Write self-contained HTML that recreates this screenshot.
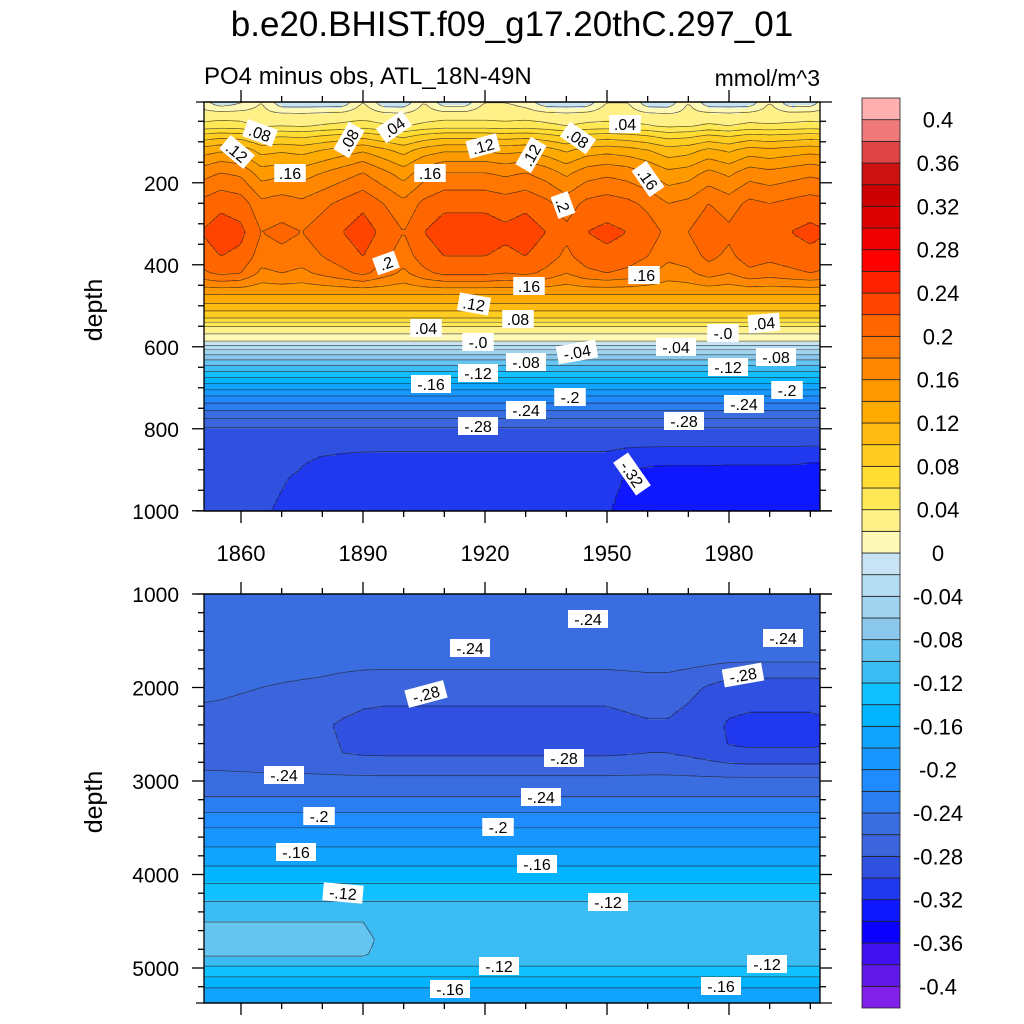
<!DOCTYPE html>
<html><head><meta charset="utf-8">
<style>
html,body{margin:0;padding:0;background:#fff;}
svg{display:block;font-family:"Liberation Sans",sans-serif;}
</style></head>
<body>
<svg id="chart" width="1024" height="1024" viewBox="0 0 1024 1024" xmlns="http://www.w3.org/2000/svg">
<defs>
<clipPath id="clipTop"><rect x="204" y="102" width="616" height="409"/></clipPath>
<clipPath id="clipBot"><rect x="204" y="594" width="616" height="409"/></clipPath>
</defs>
<text x="512" y="36" text-anchor="middle" font-size="35">b.e20.BHIST.f09_g17.20thC.297_01</text>
<text x="204" y="84" font-size="24">PO4 minus obs, ATL_18N-49N</text>
<text x="820" y="86" font-size="23" text-anchor="end">mmol/m^3</text>
<text transform="translate(102,310) rotate(-90)" text-anchor="middle" font-size="25">depth</text>
<text transform="translate(102,802) rotate(-90)" text-anchor="middle" font-size="25">depth</text>
<g id="layers"></g>
</svg>
<script>
const years = [1850,1855,1860,1865,1870,1875,1880,1885,1890,1895,1900,1905,1910,1915,1920,1925,1930,1935,1940,1945,1950,1955,1960,1965,1970,1975,1980,1985,1990,1995,2000,2005];
const topDepths = [0,20,60,85,120,175,250,320,380,420,450,495,530,550,587,607,632,660,690,720,755,795,860,920,1000];
const topValues = [0.006,0.02,0.04,0.08,0.12,0.16,0.195,0.21,0.2,0.185,0.16,0.12,0.08,0.04,0,-0.04,-0.08,-0.12,-0.16,-0.2,-0.24,-0.28,-0.3,-0.31,-0.315];
const topSurfAnom = [0,-0.02,-0.01,0.01,-0.02,-0.02,-0.02,-0.02,0.01,-0.02,-0.02,0.01,-0.02,-0.02,0.01,0.01,0,-0.02,-0.02,-0.02,0.01,0.01,-0.02,-0.02,0.01,-0.02,-0.02,-0.02,0.01,-0.02,-0.02,0.01];
const topUpperAnom = [0.01,0.02,0.015,-0.01,-0.005,-0.01,0,0.01,0.02,0.005,-0.01,0.01,0.02,0.02,0.02,0.015,0.02,0.01,-0.005,0.01,0.015,0.01,0,-0.015,-0.01,0.005,-0.005,0.01,0.005,0.01,0.015,0.01];
const topDeepAnom = [0.025,0.025,0.022,0.018,0.012,0.006,0.002,0,-0.002,-0.003,-0.003,-0.003,-0.003,-0.003,-0.003,-0.003,-0.003,-0.003,-0.003,-0.003,-0.003,-0.012,-0.016,-0.017,-0.017,-0.017,-0.018,-0.018,-0.018,-0.018,-0.02,-0.02];
const botDepths = [1000,1280,1600,2000,2400,2700,3170,3500,3910,4280,4700,4900,4980,5210,5400];
const botValues = [-0.255,-0.24,-0.245,-0.27,-0.282,-0.28,-0.24,-0.2,-0.16,-0.12,-0.105,-0.11,-0.12,-0.16,-0.18];
const botMidAnom = [0.015,0.014,0.012,0.01,0.008,0.006,0.004,0,-0.003,-0.004,-0.004,-0.004,-0.004,-0.004,-0.004,-0.004,-0.004,-0.004,-0.004,-0.004,-0.004,-0.002,0,0,-0.005,-0.012,-0.02,-0.022,-0.022,-0.022,-0.022,-0.02];
const botDeepAnom = [0.012,0.012,0.012,0.012,0.012,0.012,0.012,0.012,0.012,0,-0.003,-0.003,-0.003,-0.003,-0.003,-0.003,-0.003,-0.003,-0.003,-0.003,-0.003,-0.003,-0.003,-0.003,-0.003,-0.003,-0.003,-0.003,-0.003,-0.003,-0.003,-0.003];
const levelColors = ["#8020e8","#6018e8","#4010f0","#0a00ff","#1018ff","#2038ee","#3050e0","#3c64dc","#3a6ee0","#2a7ef0","#1e8cff","#1898ff","#10a4ff","#00b4ff","#10c0ff","#3cbcf4","#66c4f0","#8cc8ec","#a0d4ee","#b4dcf2","#c8e4f4",
"#fff9b8","#fff088","#ffe855","#ffdd33","#ffcc22","#ffbb11","#ffaa00","#ff9900","#ff8800","#ff7700","#ff6600","#ff4400","#ff2200","#ff0000","#ee0000","#dd0000","#cc0000","#cc1111","#e04545","#f07a7a","#ffb0b0"];
const cbarLabels = ["0.4","0.36","0.32","0.28","0.24","0.2","0.16","0.12","0.08","0.04","0","-0.04","-0.08","-0.12","-0.16","-0.2","-0.24","-0.28","-0.32","-0.36","-0.4"];
const xTickYears = [1860,1890,1920,1950,1980];
const topYTicks = [200,400,600,800,1000];
const botYTicks = [1000,2000,3000,4000,5000];
const topLabels = [[237,152,40,".12"],[260,133,20,".08"],[349,140,-60,".08"],[394,127,-35,".04"],[290,173,0,".16"],[430,173,0,".16"],[483,146,-15,".12"],[531,155,-60,".12"],[578,138,35,".08"],[625,124,0,".04"],[648,179,55,".16"],[563,205,70,".2"],[386,263,-20,".2"],[529,286,0,".16"],[644,275,0,".16"],[474,304,10,".12"],[518,319,0,".08"],[426,328,0,".04"],[478,342,0,"-.0"],[526,362,0,"-.08"],[577,352,-10,"-.04"],[676,347,0,"-.04"],[723,333,0,"-.0"],[764,323,-5,".04"],[431,384,0,"-.16"],[478,373,0,"-.12"],[526,410,0,"-.24"],[570,397,0,"-.2"],[728,367,0,"-.12"],[776,357,0,"-.08"],[787,390,0,"-.2"],[744,404,0,"-.24"],[478,426,0,"-.28"],[684,421,0,"-.28"],[632,474,55,"-.32"]];
const botLabels = [[588,619,0,"-.24"],[783,638,0,"-.24"],[470,648,0,"-.24"],[743,675,-10,"-.28"],[426,694,-15,"-.28"],[564,758,0,"-.28"],[284,775,0,"-.24"],[541,797,0,"-.24"],[319,816,0,"-.2"],[498,827,0,"-.2"],[296,852,0,"-.16"],[537,864,0,"-.16"],[343,893,5,"-.12"],[608,902,0,"-.12"],[499,966,0,"-.12"],[767,964,0,"-.12"],[450,989,0,"-.16"],[721,986,0,"-.16"]];

const NS = "http://www.w3.org/2000/svg";
const root = document.getElementById("layers");
function mk(tag, attrs, parent){const e=document.createElementNS(NS,tag);for(const k in attrs)e.setAttribute(k,attrs[k]);(parent||root).appendChild(e);return e;}
function interp(xs, ys, x){
  if(x<=xs[0])return ys[0];
  if(x>=xs[xs.length-1])return ys[ys.length-1];
  for(let i=1;i<xs.length;i++){if(x<=xs[i]){const t=(x-xs[i-1])/(xs[i]-xs[i-1]);return ys[i-1]+t*(ys[i]-ys[i-1]);}}
}
function ramp(d,a,b,c,e){if(d<=a||d>=e)return 0;if(d<b)return (d-a)/(b-a);if(d<=c)return 1;return (e-d)/(e-c);}
const X0=204,X1=820;
function xScale(yr){return 241+(yr-1860)*(488/120);}
function xInv(px){return 1860+(px-241)*120/488;}
function yTop(d){return 102+(d-3)*0.41;}
function yTopInv(py){return 3+(py-102)/0.41;}
function yBot(d){return 594+(d-1000)*0.0935;}
function yBotInv(py){return 1000+(py-594)/0.0935;}

function topField(yr,d){
  const wu = d<150 ? d/150 : (d<=420?1:Math.max(0,1-(d-420)/50));
  const wd = d<=820?0:Math.min(1,(d-820)/80);
  const ws = d<=10?1:Math.max(0,1-(d-10)/25);
  return interp(topDepths,topValues,d)+interp(years,topSurfAnom,yr)*ws+interp(years,topUpperAnom,yr)*wu+interp(years,topDeepAnom,yr)*wd;
}
function botField(yr,d){
  return interp(botDepths,botValues,d)+interp(years,botMidAnom,yr)*ramp(d,1600,2000,2600,3000)+interp(years,botDeepAnom,yr)*ramp(d,4350,4500,4850,4950);
}
function colorIdx(v){return Math.max(0,Math.min(41,Math.floor((v+0.42)/0.02+1e-9)));}

function drawPanel(name, clipId, yT, yB, yInv, field){
  const g=mk("g",{"clip-path":"url(#"+clipId+")"});
  
  
  const step=3;
  const xs=[],ys=[];
  for(let x=X0;x<=X1+step;x+=step)xs.push(x);
  for(let y=yT;y<=yB+step;y+=step)ys.push(y);
  const F=ys.map(y=>xs.map(x=>field(xInv(x),yInv(y))));
  for(let j=0;j<ys.length-1;j++){
    let start=0;
    const idxs=[];
    for(let i=0;i<xs.length-1;i++){idxs.push(colorIdx((F[j][i]+F[j][i+1]+F[j+1][i]+F[j+1][i+1])/4));}
    for(let i=0;i<=idxs.length;i++){
      if(i===idxs.length||idxs[i]!==idxs[start]){
        const r=mk("rect",{x:xs[start],y:ys[j],width:xs[i]-xs[start]+0.6,height:step+0.6,fill:levelColors[idxs[start]]},g);
        
        
        start=i;
      }
    }
  }
  let d="";
  for(let L=-0.40;L<=0.401;L+=0.02){
    for(let j=0;j<ys.length-1;j++)for(let i=0;i<xs.length-1;i++){
      const a=F[j][i],b=F[j][i+1],c=F[j+1][i+1],e=F[j+1][i];
      const pts=[];
      function cross(v1,v2,x1,y1,x2,y2){if((v1<L)!==(v2<L)){const t=(L-v1)/(v2-v1);pts.push([x1+t*(x2-x1),y1+t*(y2-y1)]);}}
      cross(a,b,xs[i],ys[j],xs[i+1],ys[j]);
      cross(b,c,xs[i+1],ys[j],xs[i+1],ys[j+1]);
      cross(e,c,xs[i],ys[j+1],xs[i+1],ys[j+1]);
      cross(a,e,xs[i],ys[j],xs[i],ys[j+1]);
      for(let k=0;k+1<pts.length;k+=2)d+="M"+pts[k][0].toFixed(1)+" "+pts[k][1].toFixed(1)+"L"+pts[k+1][0].toFixed(1)+" "+pts[k+1][1].toFixed(1);
    }
  }
  const p=mk("path",{d:d,fill:"none",stroke:"#222","stroke-width":"0.7","stroke-opacity":"0.75"},g);
  
  
}
drawPanel("top-panel","clipTop",102,511,yTopInv,topField);
drawPanel("bottom-panel","clipBot",594,1003,yBotInv,botField);

function labels(list,prefix){
  list.forEach(l=>{
    const g=mk("g",{transform:"translate("+l[0]+","+l[1]+") rotate("+l[2]+")"});
    
    
    const w=l[3].length*8.5+6;
    mk("rect",{x:-w/2,y:-9,width:w,height:18,fill:"#fff"},g);
    const t=mk("text",{x:0,y:6,"text-anchor":"middle","font-size":"16"},g);
    t.textContent=l[3];
  });
}
labels(topLabels,"top");
labels(botLabels,"bottom");

function frame(name,yT,yB,xTickSide,yTicks,yFn,minorStep,minorMax,minorMin){
  const g=mk("g",{stroke:"#000","stroke-width":"1.3",fill:"none"});
  
  
  mk("rect",{x:X0,y:yT,width:X1-X0,height:yB-yT},g);
  const xy = xTickSide==="top"?yT:yB, dir = xTickSide==="top"?-1:1;
  mk("line",{x1:196,x2:832,y1:xy,y2:xy},g);
  for(let yr=1860;yr<=2000;yr+=10){
    const x=xScale(yr); if(x>X1)continue;
    const len=(yr-1860)%30===0?12:6;
    mk("line",{x1:x,x2:x,y1:xy,y2:xy+dir*len},g);
  }
  for(let v=minorMin;v<=minorMax;v+=minorStep){
    const y=yFn(v); if(y<yT-0.5||y>yB+0.5)continue;
    const major=yTicks.indexOf(v)>=0;
    const len=major?12:6;
    mk("line",{x1:X0,x2:X0-len,y1:y,y2:y},g);
    mk("line",{x1:X1,x2:X1+len,y1:y,y2:y},g);
  }
  yTicks.forEach(v=>{
    const t=mk("text",{x:179,y:yFn(v)+8,"text-anchor":"end","font-size":"21",fill:"#000",stroke:"none"},root);
    
    
    t.textContent=v;
  });
}
frame("top-panel",102,511,"top",topYTicks,yTop,50,1000,50);
frame("bottom-panel",594,1003,"bottom",botYTicks,yBot,200,5400,1000);
(function(){
  const g=mk("g",{stroke:"#000","stroke-width":"1.3"});
  
  
  mk("line",{x1:196,x2:832,y1:511,y2:511},g);
  mk("line",{x1:196,x2:832,y1:594,y2:594},g);
  for(let yr=1860;yr<=2000;yr+=10){
    const x=xScale(yr); if(x>X1)continue;
    const len=(yr-1860)%30===0?12:6;
    mk("line",{x1:x,x2:x,y1:511,y2:511+len},g);
    mk("line",{x1:x,x2:x,y1:594,y2:594-len},g);
  }
})();
xTickYears.forEach(yr=>{
  const t=mk("text",{x:xScale(yr),y:561,"text-anchor":"middle","font-size":"22"});
  
  
  t.textContent=yr;
});

(function(){
  const g=mk("g",{});
  
  
  const top=98,h=910/42;
  for(let k=0;k<42;k++){
    const r=mk("rect",{x:862,y:top+(41-k)*h,width:38,height:h,fill:levelColors[k],stroke:"#222","stroke-width":"0.8"},g);
    
    
  }
  cbarLabels.forEach((s,i)=>{
    const y=top+h*(1+2*i);
    const t=mk("text",{x:938,y:y+8,"text-anchor":"middle","font-size":"22"},g);
    
    
    t.textContent=s;
  });
})();
</script>
</body></html>
